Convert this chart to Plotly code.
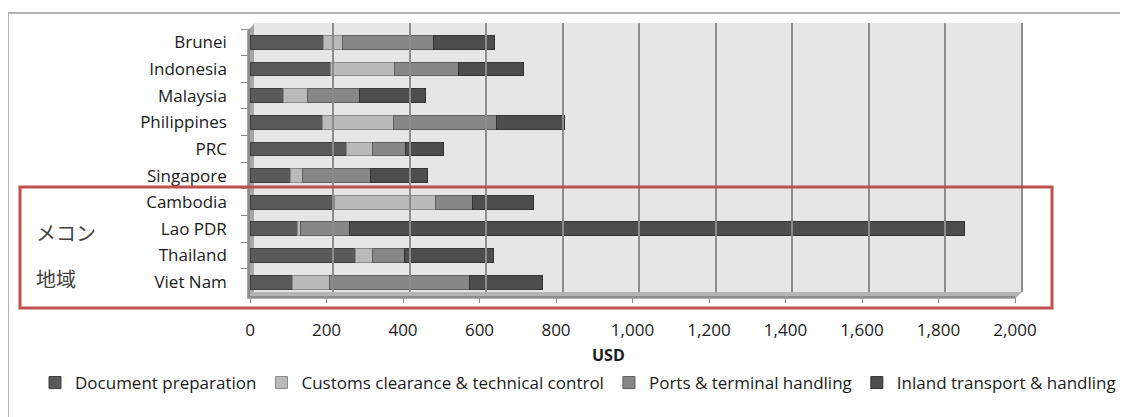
import plotly.graph_objects as go

# ---------------- data ----------------
countries = ["Brunei", "Indonesia", "Malaysia", "Philippines", "PRC",
             "Singapore", "Cambodia", "Lao PDR", "Thailand", "Viet Nam"]
document_preparation = [191, 211, 87, 190, 251, 106, 220, 124, 275, 111]
customs_clearance = [50, 168, 64, 186, 69, 31, 264, 7, 45, 96]
ports_terminal = [238, 166, 134, 269, 87, 178, 97, 129, 85, 368]
inland_transport = [161, 170, 173, 178, 100, 149, 160, 1609, 231, 190]
series_names = ["Document preparation", "Customs clearance & technical control",
                "Ports & terminal handling", "Inland transport & handling"]
x_tick_values = [0, 200, 400, 600, 800, 1000, 1200, 1400, 1600, 1800, 2000]
x_tick_labels = ["0", "200", "400", "600", "800", "1,000", "1,200",
                 "1,400", "1,600", "1,800", "2,000"]
axis_title = "USD"
region_label = ["メコン", "地域"]

# ---------------- style ----------------
W, H = 1128, 417
OFF = 8  # page body margin
FONT = "Open Sans, sans-serif"
colors = ["#5a5a5a", "#bababa", "#878787", "#4d4d4d"]
line_colors = ["#3c3c3c", "#8a8a8a", "#5e5e5e", "#333333"]


def fx(px):
    return (px - OFF) / W


def fy(py):
    return 1 - (py - OFF) / H


fig = go.Figure()
for name, vals, c, lc in zip(series_names,
                             [document_preparation, customs_clearance,
                              ports_terminal, inland_transport],
                             colors, line_colors):
    fig.add_trace(go.Bar(
        y=countries, x=vals, name=name, orientation="h",
        marker=dict(color=c, line=dict(color=lc, width=1)),
        xaxis="x", yaxis="y",
    ))

# empty trace to instantiate the back-wall grid subplot
fig.add_trace(go.Scatter(x=[], y=[], xaxis="x2", yaxis="y2",
                         showlegend=False, hoverinfo="skip"))

shapes = [
    # back wall
    dict(type="rect", xref="paper", yref="paper", layer="below",
         x0=fx(253), x1=fx(1022), y0=fy(292), y1=fy(23),
         fillcolor="#e6e6e6", line=dict(width=0)),
    # side wall
    dict(type="path", xref="paper", yref="paper", layer="below",
         path=f"M {fx(247)},{fy(31)} L {fx(254)},{fy(24)} L {fx(254)},{fy(292)} L {fx(247)},{fy(299)} Z",
         fillcolor="#a6a6a6", line=dict(width=0)),
    # floor
    dict(type="path", xref="paper", yref="paper", layer="below",
         path=f"M {fx(247)},{fy(299)} L {fx(254)},{fy(292)} L {fx(1022)},{fy(292)} L {fx(1015)},{fy(299)} Z",
         fillcolor="#b4b4b4", line=dict(width=0)),
    # right wall edge
    dict(type="line", xref="paper", yref="paper", layer="below",
         x0=fx(1022), x1=fx(1022), y0=fy(292), y1=fy(23),
         line=dict(color="#8c8c8c", width=2)),
    # outer chart border
    dict(type="rect", xref="paper", yref="paper",
         x0=fx(8), x1=fx(1150), y0=fy(440), y1=fy(13),
         line=dict(color="#9a9a9a", width=1.5)),
    # red highlight rectangle
    dict(type="rect", xref="paper", yref="paper",
         x0=fx(20), x1=fx(1052), y0=fy(308), y1=fy(187),
         line=dict(color="#c0504d", width=3)),
]

annotations = [
    dict(text=f"<b>{axis_title}</b>", x=fx(608), y=fy(355), xref="paper", yref="paper",
         xanchor="center", yanchor="middle", showarrow=False,
         font=dict(family=FONT, size=16, color="#1a1a1a")),
    dict(text=region_label[0], x=fx(34), y=fy(232), xref="paper", yref="paper",
         xanchor="left", yanchor="middle", showarrow=False,
         font=dict(family="Noto Sans CJK JP", size=20, color="#404040")),
    dict(text=region_label[1], x=fx(34), y=fy(278), xref="paper", yref="paper",
         xanchor="left", yanchor="middle", showarrow=False,
         font=dict(family="Noto Sans CJK JP", size=20, color="#404040")),
]

fig.update_layout(
    width=W, height=H,
    margin=dict(l=0, r=0, t=0, b=0, pad=0, autoexpand=False),
    paper_bgcolor="white", plot_bgcolor="rgba(0,0,0,0)",
    barmode="stack", bargap=0.48,
    font=dict(family=FONT, size=17, color="#1a1a1a"),
    xaxis=dict(domain=[fx(250), fx(1015)], range=[0, 2000], anchor="y",
               automargin=False,
               tickmode="array", tickvals=x_tick_values, ticktext=x_tick_labels,
               showgrid=False, zeroline=False, showline=True,
               linecolor="#8c8c8c", linewidth=1.5,
               ticks="outside", ticklen=6, tickcolor="#8c8c8c",
               ticklabelstandoff=12,
               tickfont=dict(family=FONT, size=17, color="#1a1a1a")),
    yaxis=dict(domain=[fy(295.5), fy(29)], anchor="x", autorange="reversed",
               automargin=False,
               type="category", showgrid=False, showline=True,
               linecolor="#8c8c8c", linewidth=1.5,
               ticks="outside", ticklen=7, tickcolor="#8c8c8c",
               tickson="boundaries", ticklabelstandoff=18,
               tickfont=dict(family=FONT, size=17, color="#1a1a1a")),
    xaxis2=dict(domain=[fx(256.5), fx(1022)], range=[0, 2000], anchor="y2",
                automargin=False,
                tickmode="array", tickvals=x_tick_values, showticklabels=False,
                showgrid=True, gridcolor="#8c8c8c", gridwidth=1.5,
                zeroline=False, showline=False, ticks=""),
    yaxis2=dict(domain=[fy(292), fy(23)], anchor="x2", range=[0, 1],
                automargin=False,
                showgrid=False, showticklabels=False, zeroline=False,
                showline=False, ticks=""),
    legend=dict(orientation="h", x=fx(35), y=fy(383), xanchor="left",
                yanchor="middle", bgcolor="rgba(0,0,0,0)",
                font=dict(family=FONT, size=17, color="#1a1a1a"),
                traceorder="normal", itemclick=False, itemwidth=30),
    shapes=shapes,
    annotations=annotations,
)

fig.write_html("out.html")
